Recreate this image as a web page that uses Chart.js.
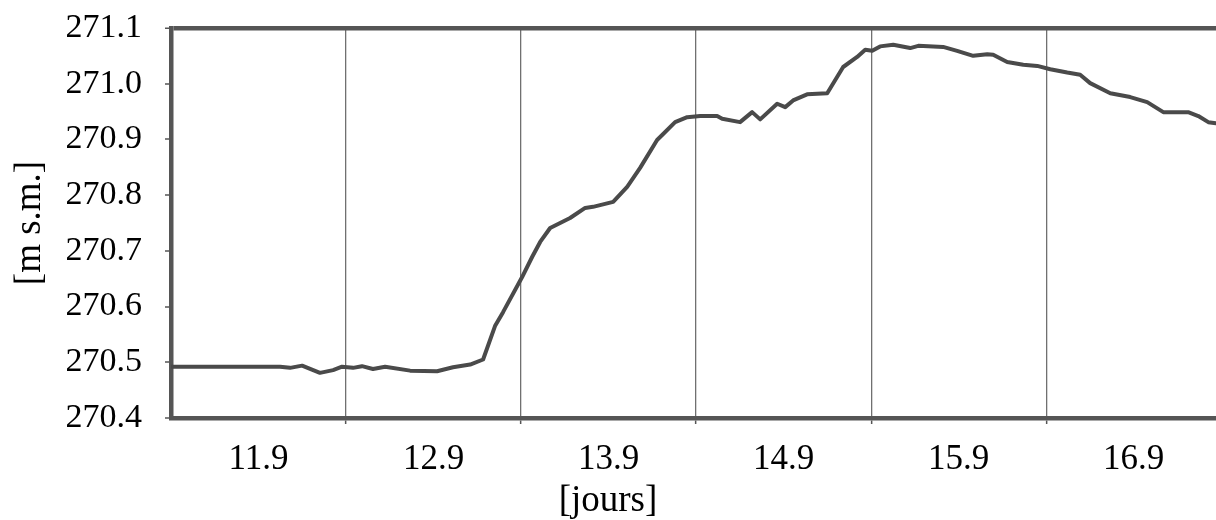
<!DOCTYPE html>
<html>
<head>
<meta charset="utf-8">
<script src="https://cdn.jsdelivr.net/npm/chart.js@4/dist/chart.umd.min.js"></script>
<style>
  html, body { margin: 0; padding: 0; background: #fff; }
  #wrap { width: 1216px; height: 520px; position: relative; }
</style>
</head>
<body>
<div id="wrap"><canvas id="levelChart"></canvas></div>
<script>
// water level readings: time in days, level in m above sea level
const days = [
  11.000, 11.623, 11.680, 11.749, 11.851, 11.926, 11.977, 12.040, 12.091, 12.154,
  12.223, 12.366, 12.520, 12.611, 12.709, 12.783, 12.851, 12.897, 13.006, 13.063,
  13.109, 13.166, 13.223, 13.280, 13.366, 13.411, 13.526, 13.606, 13.680, 13.777,
  13.880, 13.949, 14.023, 14.120, 14.149, 14.251, 14.320, 14.366, 14.463, 14.509,
  14.554, 14.634, 14.749, 14.840, 14.920, 14.966, 15.006, 15.051, 15.126, 15.223,
  15.269, 15.411, 15.491, 15.583, 15.663, 15.697, 15.777, 15.869, 15.949, 16.023,
  16.120, 16.194, 16.251, 16.366, 16.480, 16.577, 16.669, 16.811, 16.869, 16.926,
  16.970
];
const level = [
  270.492, 270.492, 270.490, 270.494, 270.481, 270.486, 270.492, 270.490, 270.493, 270.488,
  270.492, 270.485, 270.484, 270.491, 270.496, 270.505, 270.565, 270.590, 270.653, 270.689,
  270.716, 270.741, 270.750, 270.759, 270.777, 270.779, 270.788, 270.815, 270.849, 270.899,
  270.931, 270.940, 270.942, 270.942, 270.937, 270.931, 270.949, 270.936, 270.964, 270.958,
  270.970, 270.981, 270.983, 271.030, 271.048, 271.061, 271.059, 271.067, 271.070, 271.064,
  271.068, 271.066, 271.059, 271.050, 271.053, 271.052, 271.039, 271.034, 271.032, 271.026,
  271.020, 271.016, 271.001, 270.983, 270.976, 270.967, 270.949, 270.949, 270.942, 270.931,
  270.929
];

// day boundaries get a grid line, each day gets its date label in the middle
const dayBreaks = [12, 13, 14, 15, 16];
const dayCentres = [11.5, 12.5, 13.5, 14.5, 15.5, 16.5];
const dayLabels = ["11.9", "12.9", "13.9", "14.9", "15.9", "16.9"];
const levelTicks = [270.4, 270.5, 270.6, 270.7, 270.8, 270.9, 271.0, 271.1];

const ink = "#4a4a4a";
const frame = "#555555";
const serif = "'Liberation Serif', 'Times New Roman', serif";

const points = days.map((d, i) => ({ x: d, y: level[i] }));

new Chart(document.getElementById("levelChart"), {
  type: "line",
  data: {
    datasets: [{
      data: points,
      borderColor: ink,
      borderWidth: 4,
      borderJoinStyle: "round",
      borderCapStyle: "round",
      pointRadius: 0,
      tension: 0,
    }]
  },
  options: {
    responsive: true,
    maintainAspectRatio: false,
    animation: false,
    layout: { padding: { top: 28, right: 0, left: 0, bottom: 0 } },
    plugins: {
      legend: { display: false },
      tooltip: { enabled: false },
      title: {
        display: true,
        position: "bottom",
        text: "[jours]",
        color: "#000",
        font: { family: serif, size: 37, weight: "normal", lineHeight: 1 },
        padding: { top: 0, bottom: 0 }
      }
    },
    scales: {
      x: {
        type: "linear",
        min: 11,
        max: 16.97,
        afterBuildTicks: (scale) => {
          scale.ticks = [...dayBreaks, ...dayCentres]
            .sort((a, b) => a - b)
            .map(v => ({ value: v }));
        },
        afterFit: (scale) => { scale.height = 65; },
        border: { display: true, color: frame, width: 4.5 },
        grid: {
          drawOnChartArea: true,
          drawTicks: true,
          tickLength: 6,
          color: "#707070",
          lineWidth: (ctx) => dayBreaks.includes(ctx.tick && ctx.tick.value) ? 1.3 : 0,
          tickColor: frame,
          tickWidth: (ctx) => dayBreaks.includes(ctx.tick && ctx.tick.value) ? 1.5 : 0
        },
        ticks: {
          autoSkip: false,
          maxRotation: 0,
          padding: 15,
          color: "#000",
          font: { family: serif, size: 35 },
          callback: (value) => {
            const i = dayCentres.indexOf(value);
            return i >= 0 ? dayLabels[i] : "";
          }
        }
      },
      y: {
        min: 270.4,
        max: 271.1,
        afterBuildTicks: (scale) => {
          scale.ticks = levelTicks.map(v => ({ value: v }));
        },
        afterFit: (scale) => {
          scale.width = 171;
          // the top label fits in the layout padding already
          scale.paddingTop = 0;
          scale.paddingBottom = 0;
        },
        border: { display: true, color: frame, width: 4.5 },
        grid: {
          drawTicks: true,
          tickLength: 6,
          color: frame,
          // only the top edge of the frame comes from the grid
          lineWidth: (ctx) => ctx.index === levelTicks.length - 1 ? 4.5 : 0,
          tickColor: frame,
          tickWidth: 1.5
        },
        ticks: {
          padding: 23,
          color: "#000",
          font: { family: serif, size: 34 },
          callback: (value) => value.toFixed(1)
        },
        title: {
          display: true,
          text: "[m s.m.]",
          color: "#000",
          font: { family: serif, size: 37, weight: "normal" },
          padding: { top: 8, bottom: 0 }
        }
      }
    }
  }
});
</script>
</body>
</html>
